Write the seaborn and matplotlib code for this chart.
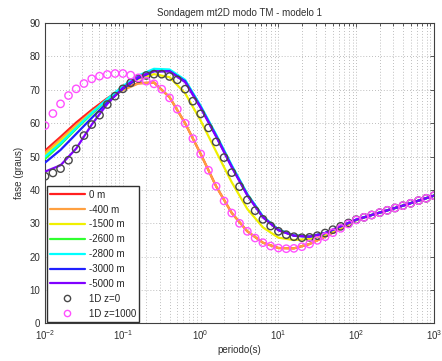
import numpy as np
import pandas as pd
import matplotlib
matplotlib.use("Agg")
import matplotlib.pyplot as plt
import seaborn as sns
from matplotlib.lines import Line2D
from matplotlib.ticker import LogLocator

# ---- data ----
period_lines = [0.01, 0.0158, 0.0251, 0.0398, 0.0631, 0.1, 0.158, 0.251, 0.398, 0.631,
                1.0, 1.58, 2.51, 3.98, 6.31, 10.0, 15.8, 25.1, 39.8, 63.1,
                100.0, 158.0, 251.0, 398.0, 631.0, 1000.0]

fase_0m    = [51.8, 55.9, 60.2, 64.0, 67.5, 70.3, 72.0, 72.2, 67.8, 60.0,
              50.8, 41.1, 33.1, 27.6, 24.2, 22.6, 22.5, 23.8, 26.0, 28.5,
              31.0, 32.5, 33.9, 35.3, 36.8, 38.3]
fase_400m  = [51.1, 55.2, 59.4, 63.4, 67.0, 69.9, 71.9, 72.2, 67.8, 60.0,
              50.8, 41.1, 33.1, 27.6, 24.2, 22.6, 22.5, 23.8, 26.0, 28.5,
              31.0, 32.5, 33.9, 35.3, 36.8, 38.3]
fase_1500m = [50.4, 54.6, 58.9, 63.1, 67.0, 70.5, 73.3, 74.7, 73.8, 69.0,
              60.8, 51.5, 42.3, 34.3, 28.8, 25.7, 25.0, 25.3, 26.6, 28.8,
              31.0, 32.5, 33.9, 35.3, 36.8, 38.3]
fase_2600m = [49.3, 53.6, 58.3, 62.8, 67.0, 70.8, 73.9, 75.9, 75.8, 72.8,
              65.0, 56.4, 47.2, 38.7, 32.0, 28.1, 26.4, 26.0, 27.1, 29.1,
              31.1, 32.5, 33.9, 35.3, 36.8, 38.3]
fase_2800m = [50.0, 54.0, 58.6, 63.1, 67.3, 71.1, 74.3, 76.3, 76.1, 73.0,
              65.2, 56.6, 47.4, 38.8, 32.1, 28.1, 26.4, 26.0, 27.1, 29.1,
              31.1, 32.5, 33.9, 35.3, 36.8, 38.3]
fase_3000m = [48.2, 52.0, 56.8, 61.6, 66.2, 70.3, 73.5, 75.6, 75.6, 72.6,
              64.8, 56.2, 47.0, 38.5, 31.9, 28.0, 26.3, 26.0, 27.1, 29.1,
              31.1, 32.5, 33.9, 35.3, 36.8, 38.3]
fase_5000m = [45.5, 47.4, 52.4, 59.6, 65.8, 70.6, 73.9, 75.6, 75.5, 72.3,
              64.6, 56.0, 46.8, 38.4, 31.8, 27.9, 26.3, 26.0, 27.1, 29.1,
              31.1, 32.5, 33.9, 35.3, 36.8, 38.3]

period_pts = [0.01, 0.0126, 0.0158, 0.02, 0.0251, 0.0316, 0.0398, 0.0501, 0.0631, 0.0794,
              0.1, 0.126, 0.158, 0.2, 0.251, 0.316, 0.398, 0.501, 0.631, 0.794,
              1.0, 1.26, 1.58, 2.0, 2.51, 3.16, 3.98, 5.01, 6.31, 7.94,
              10.0, 12.6, 15.8, 20.0, 25.1, 31.6, 39.8, 50.1, 63.1, 79.4,
              100.0, 126.0, 158.0, 200.0, 251.0, 316.0, 398.0, 501.0, 631.0, 794.0, 1000.0]

fase_1d_z0 = [44.1, 45.1, 46.4, 48.9, 52.3, 56.3, 59.6, 62.4, 65.6, 68.1,
              70.3, 72.1, 73.4, 74.3, 74.7, 74.7, 74.0, 73.0, 70.2, 66.6,
              62.8, 58.6, 54.4, 49.7, 45.2, 41.0, 37.0, 33.8, 31.2, 29.2,
              27.6, 26.6, 26.0, 25.7, 25.8, 26.3, 27.1, 28.1, 29.1, 30.1,
              31.1, 31.8, 32.5, 33.2, 33.9, 34.6, 35.3, 36.0, 36.8, 37.5, 38.3]
fase_1d_z1000 = [59.3, 62.9, 65.8, 68.3, 70.3, 71.9, 73.3, 74.1, 74.6, 74.9,
                 74.9, 74.4, 73.6, 72.6, 71.8, 70.2, 67.6, 64.2, 60.0, 55.4,
                 50.8, 45.9, 41.1, 36.7, 33.1, 30.0, 27.6, 25.6, 24.2, 23.2,
                 22.6, 22.4, 22.5, 23.0, 23.8, 24.9, 26.0, 27.2, 28.5, 29.8,
                 31.0, 31.8, 32.5, 33.2, 33.9, 34.6, 35.3, 36.0, 36.8, 37.5, 38.3]

line_labels = ["0 m", "-400 m", "-1500 m", "-2600 m", "-2800 m", "-3000 m", "-5000 m"]
line_values = [fase_0m, fase_400m, fase_1500m, fase_2600m, fase_2800m, fase_3000m, fase_5000m]
line_colors = ["#ff2020", "#ffa040", "#f0f000", "#30ff30", "#00ffff", "#2020ff", "#8000ff"]
pt_labels = ["1D z=0", "1D z=1000"]
pt_values = [fase_1d_z0, fase_1d_z1000]
pt_colors = ["#484848", "#ff50ff"]

# ---- plot ----
sns.set_style("white")
plt.rcParams['font.family'] = ['Liberation Sans', 'DejaVu Sans']
plt.rcParams['mathtext.fontset'] = 'custom'
plt.rcParams['mathtext.rm'] = 'Liberation Sans'

fig = plt.figure(figsize=(4.42, 3.61), dpi=100)
ax = fig.add_axes([0.102, 0.104, 0.880, 0.832])

for lab, vals, col in zip(line_labels, line_values, line_colors):
    df = pd.DataFrame({"periodo": period_lines, "fase": vals})
    sns.lineplot(data=df, x="periodo", y="fase", ax=ax, color=col, lw=1.6,
                 sort=False, estimator=None, legend=False, zorder=3)

for lab, vals, col in zip(pt_labels, pt_values, pt_colors):
    df = pd.DataFrame({"periodo": period_pts, "fase": vals})
    sns.scatterplot(data=df, x="periodo", y="fase", ax=ax, s=28, marker="o",
                    facecolor="none", edgecolor=col, linewidth=1.0,
                    legend=False, zorder=4)

ax.set_xscale("log")
ax.set_xlim(1e-2, 1e3)
ax.set_ylim(0, 90)
ax.set_yticks(range(0, 91, 10))
ax.xaxis.set_major_locator(LogLocator(base=10, numticks=10))
ax.xaxis.set_minor_locator(LogLocator(base=10, subs=np.arange(2, 10), numticks=100))

ax.grid(True, which="major", axis="both", ls=(0, (1, 2.5)), color="#a8a8a8", lw=0.6)
ax.grid(True, which="minor", axis="x", ls=(0, (1, 2.5)), color="#a8a8a8", lw=0.6)
ax.tick_params(which="both", direction="in", top=True, right=True,
               labelsize=7, length=3, width=0.6, color="#404040", labelcolor="#303030")
ax.tick_params(which="minor", length=1.8)
for sp in ax.spines.values():
    sp.set_color("#404040")
    sp.set_linewidth(0.8)

ax.set_title("Sondagem mt2D modo TM - modelo 1", fontsize=7, color="#303030", pad=5)
ax.set_xlabel("periodo(s)", fontsize=7, color="#303030", labelpad=2)
ax.set_ylabel("fase (graus)", fontsize=7, color="#303030", labelpad=4)

handles = [Line2D([], [], color=c, lw=1.6, label=l) for l, c in zip(line_labels, line_colors)]
handles += [Line2D([], [], color=c, lw=0, marker="o", markerfacecolor="none",
                   markeredgecolor=c, markersize=4.5, label=l) for l, c in zip(pt_labels, pt_colors)]
leg = ax.legend(handles=handles, loc="lower left", fontsize=7, frameon=True,
                fancybox=False, framealpha=1, edgecolor="#303030",
                borderpad=0.35, labelspacing=0.5, handlelength=3.6,
                handletextpad=0.4, borderaxespad=0.15)
leg.get_frame().set_linewidth(1.0)

fig.savefig("out.png", dpi=100)
